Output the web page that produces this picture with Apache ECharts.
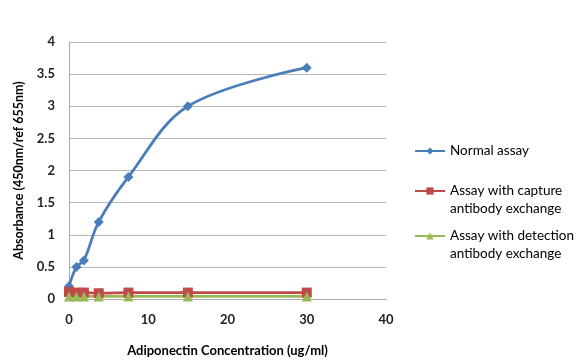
<!DOCTYPE html>
<html><head><meta charset="utf-8">
<script src="https://cdn.jsdelivr.net/npm/echarts@6/dist/echarts.min.js"></script>
<style>html,body{margin:0;padding:0;background:#fff}#c{width:578px;height:364px}</style>
</head><body><div id="c"></div>
<script>
const concentrations = [0, 0.94, 1.875, 3.75, 7.5, 15, 30];
const normalAssay = [0.2, 0.5, 0.6, 1.2, 1.9, 3.0, 3.6];
const captureExchange = [0.11, 0.1, 0.1, 0.09, 0.1, 0.1, 0.1];
const detectionExchange = [0.04, 0.04, 0.04, 0.04, 0.04, 0.04, 0.04];
const seriesNames = ['Normal assay', 'Assay with capture\nantibody exchange', 'Assay with detection\nantibody exchange'];
const pair = (xs, ys) => xs.map((x, i) => [x, ys[i]]);
const font = 'Lato, "Open Sans", sans-serif';
const chart = echarts.init(document.getElementById('c'));
const mk = (name, data, color, symbol, size) => ({
  name, type: 'line', data, smooth: 0.35, symbol, symbolSize: size,
  itemStyle: {color}, lineStyle: {color, width: 2.8}
});
chart.setOption({
  animation: false,
  textStyle: {fontFamily: font},
  grid: {left: 69, right: 192, top: 42, bottom: 65},
  xAxis: {
    type: 'value', min: 0, max: 40, interval: 10,
    name: 'Adiponectin Concentration (ug/ml)', nameLocation: 'middle', nameGap: 45,
    nameTextStyle: {fontWeight: 'bold', fontSize: 13, color: '#000', fontFamily: font},
    axisLine: {show: true, lineStyle: {color: '#aaa'}}, axisTick: {show: false},
    axisLabel: {fontWeight: 'bold', fontSize: 13, color: '#222', margin: 14},
    splitLine: {show: false}
  },
  yAxis: {
    type: 'value', min: 0, max: 4, interval: 0.5,
    name: 'Absorbance (450nm/ref 655nm)', nameLocation: 'middle', nameGap: 44,
    nameTextStyle: {fontWeight: 'bold', fontSize: 12.5, color: '#000', fontFamily: font},
    axisLine: {show: true, lineStyle: {color: '#aaa'}}, axisTick: {show: false},
    axisLabel: {fontWeight: 'bold', fontSize: 13, color: '#222', margin: 14},
    splitLine: {lineStyle: {color: '#b8b8b8'}}
  },
  legend: [
    {data: [{name: seriesNames[0]}], top: 142},
    {data: [{name: seriesNames[1]}], top: 164},
    {data: [{name: seriesNames[2]}], top: 209}
  ].map(l => Object.assign(l, {left: 414, padding: 0, orient: 'vertical', itemWidth: 30, itemHeight: 9,
    formatter: n => n.indexOf('\n') >= 0 ? '\n' + n : n,
    textStyle: {fontSize: 13.5, color: '#000', fontFamily: font, lineHeight: 18}})),
  series: [
    mk(seriesNames[0], pair(concentrations, normalAssay), '#4a7ebb', 'diamond', 10),
    mk(seriesNames[1], pair(concentrations, captureExchange), '#be4b48', 'rect', 10),
    mk(seriesNames[2], pair(concentrations, detectionExchange), '#98b954', 'triangle', 10)
  ]
});
</script></body></html>
